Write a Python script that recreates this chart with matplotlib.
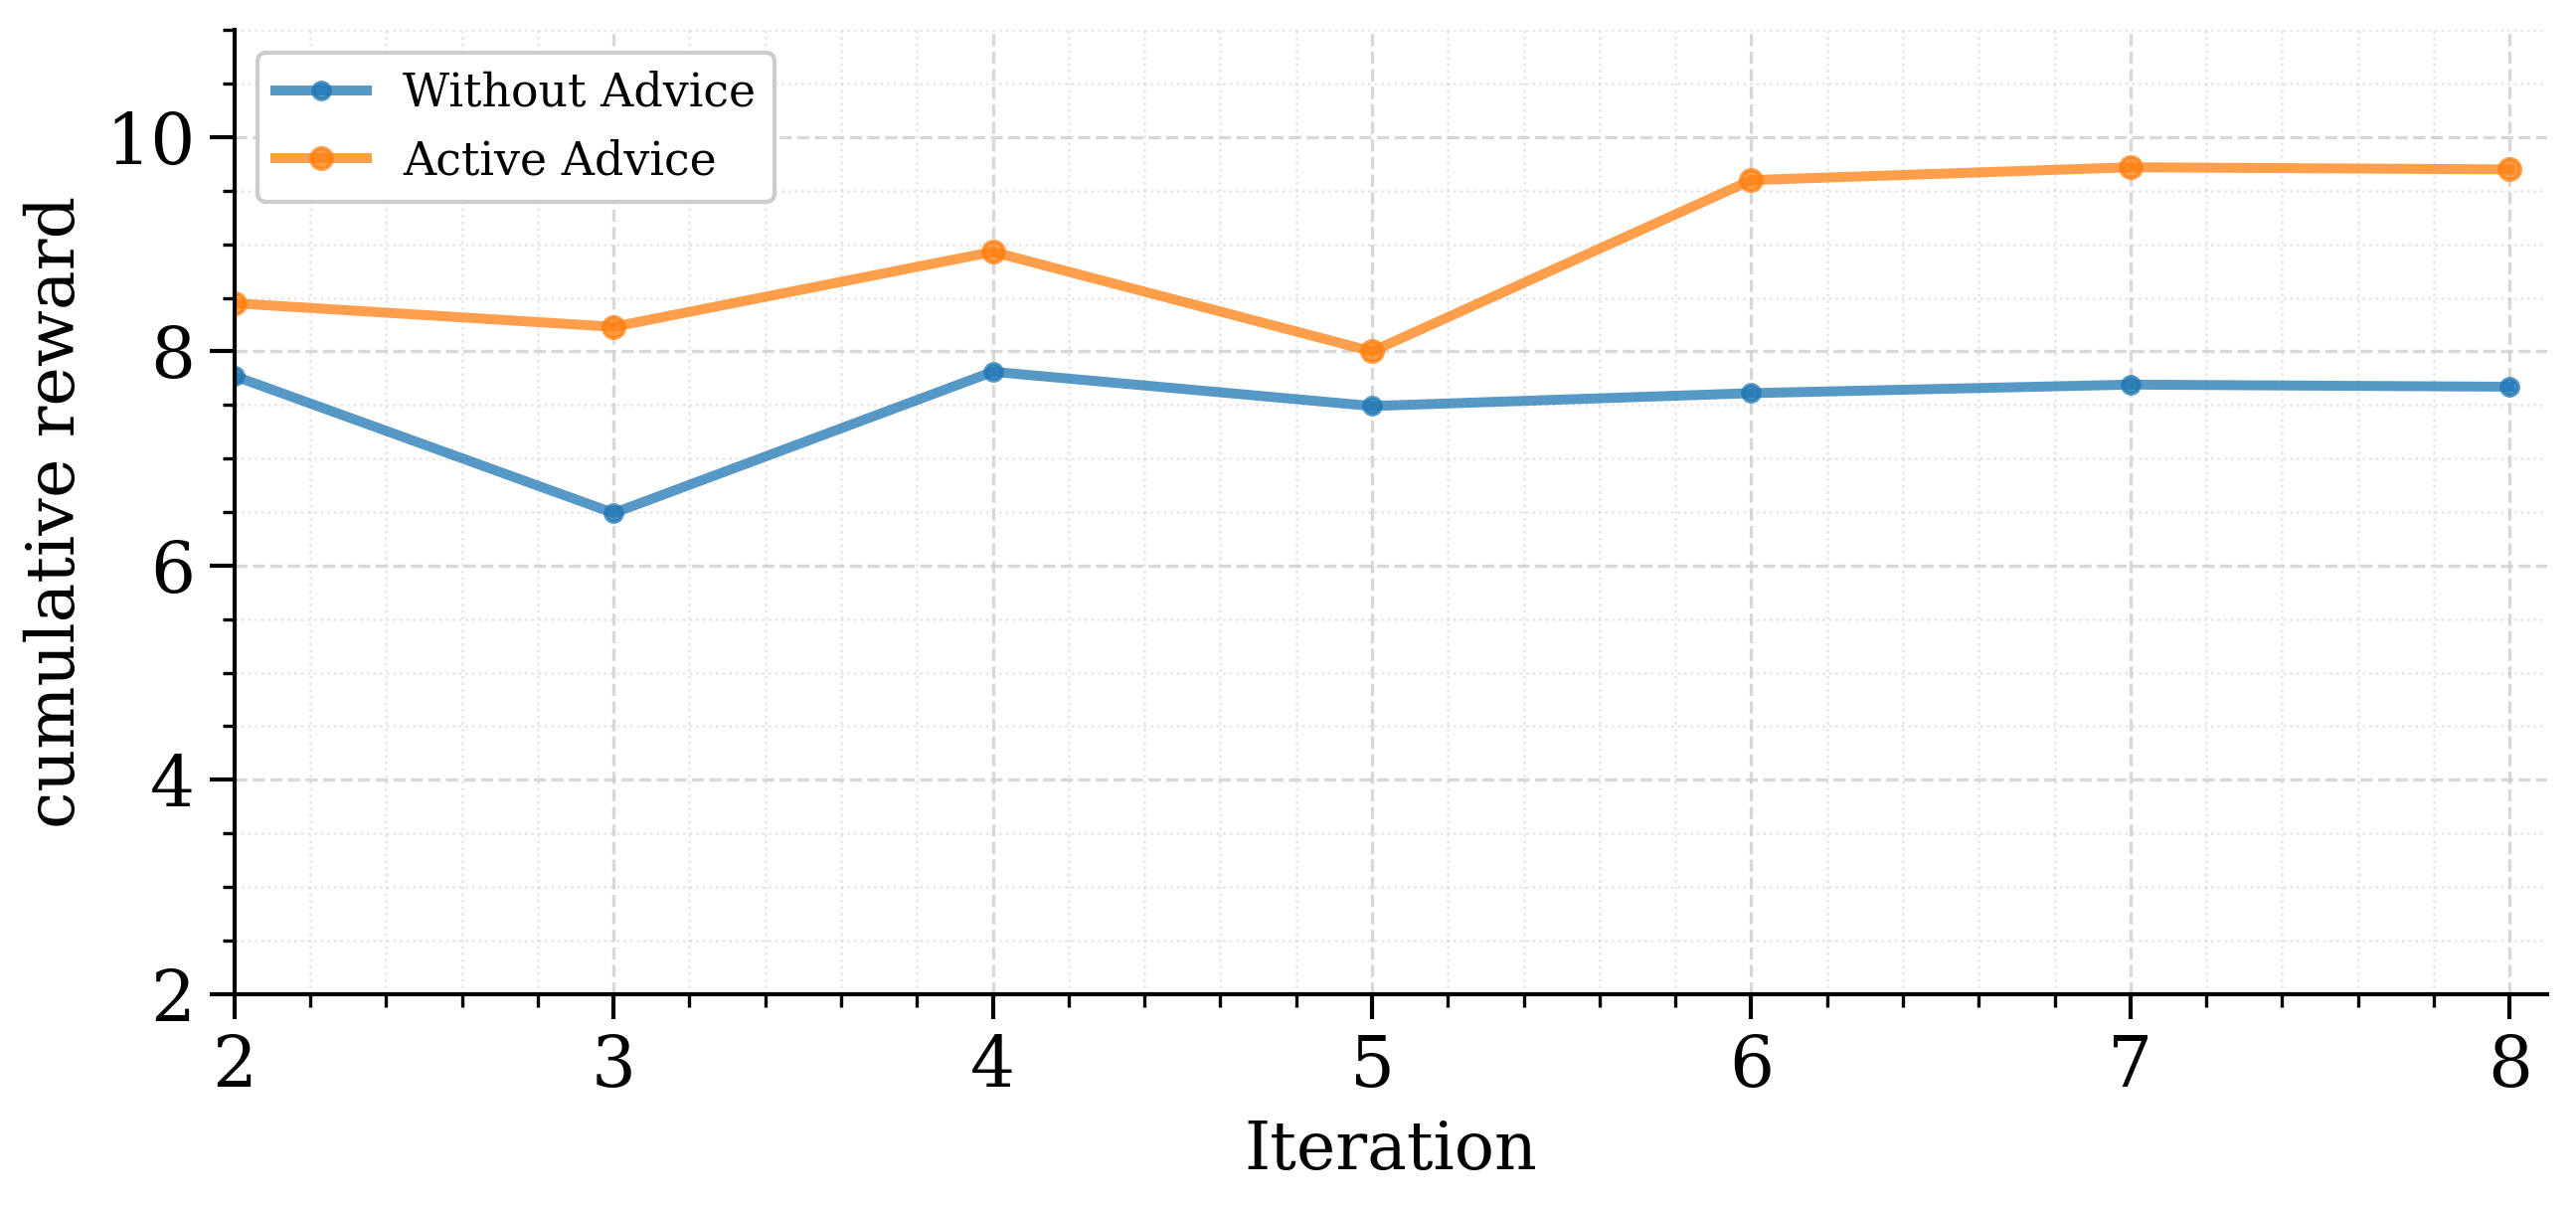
import matplotlib
matplotlib.use("Agg")
import matplotlib.pyplot as plt
from matplotlib.ticker import MultipleLocator

iterations = [2, 3, 4, 5, 6, 7, 8]
without_advice = [7.77, 6.49, 7.81, 7.49, 7.61, 7.69, 7.67]
active_advice = [8.45, 8.23, 8.93, 8.00, 9.60, 9.72, 9.70]
series_labels = ["Without Advice", "Active Advice"]

plt.rcParams['font.family'] = ['DejaVu Serif']

fig = plt.figure(figsize=(2591/300, 1216/300), dpi=300)
ax = fig.add_axes([0.091, 0.178, 0.898, 0.797])

ax.plot(iterations, without_advice, color='tab:blue', alpha=0.75, lw=2.4,
        marker='o', markersize=4, label=series_labels[0])
ax.plot(iterations, active_advice, color='tab:orange', alpha=0.75, lw=2.4,
        marker='o', markersize=5, label=series_labels[1])

ax.set_xlim(2, 8.1)
ax.set_ylim(2, 11)
ax.xaxis.set_major_locator(MultipleLocator(1))
ax.xaxis.set_minor_locator(MultipleLocator(0.2))
ax.yaxis.set_major_locator(MultipleLocator(2))
ax.yaxis.set_minor_locator(MultipleLocator(0.5))

ax.grid(which='major', linestyle='--', color='#cccccc', alpha=0.75, lw=0.8)
ax.grid(which='minor', linestyle=':', color='#cccccc', alpha=0.5, lw=0.6)

for s in ['top', 'right']:
    ax.spines[s].set_visible(False)
for s in ['left', 'bottom']:
    ax.spines[s].set_linewidth(1.0)

ax.tick_params(which='major', labelsize=17, length=6, width=1.0)
ax.tick_params(which='minor', length=3, width=0.8)

ax.set_xlabel("Iteration", fontsize=16)
ax.set_ylabel("cumulative reward", fontsize=16)

ax.legend(loc='upper left', fontsize=11, framealpha=1.0, edgecolor='#cccccc')

fig.savefig("out.png", dpi=300)
